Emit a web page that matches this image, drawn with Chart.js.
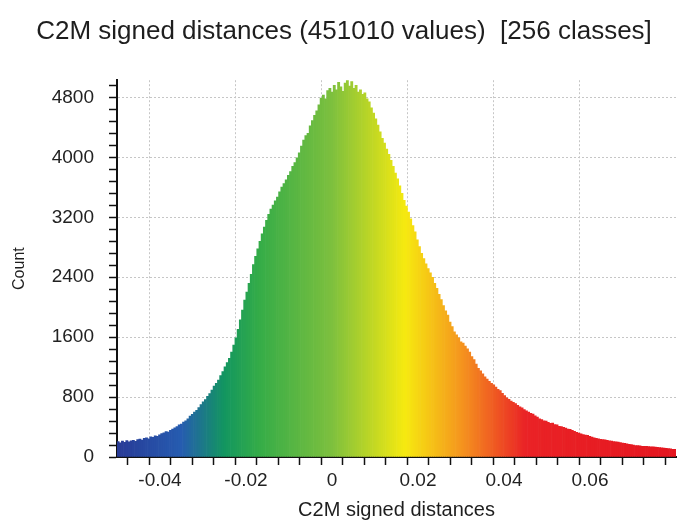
<!DOCTYPE html>
<html>
<head>
<meta charset="utf-8">
<script src="https://cdn.jsdelivr.net/npm/chart.js@4.4.1/dist/chart.umd.min.js"></script>
<style>
  html, body { margin: 0; padding: 0; background: #fff; }
  #wrap { width: 680px; height: 532px; }
</style>
</head>
<body>
<div id="wrap"><canvas id="chartHist" width="680" height="532"></canvas></div>
<script>
// histogram range and class counts (256 classes)
const histMin = -0.05
const histMax = 0.08
const counts = [
  205, 188, 212, 196, 220, 203, 215, 224, 210, 232,
  238, 226, 249, 256, 244, 268, 262, 281, 275, 296, 312,
  322, 338, 331, 357, 372, 390,
  405, 428, 441, 467, 482, 509, 545,
  571, 598, 624, 661, 700,
  735, 768, 810, 848, 895,
  946, 985, 1028, 1088, 1140,
  1205, 1262, 1318, 1400,
  1495, 1590, 1705,
  1830, 1960, 2095, 2200, 2320,
  2440, 2570, 2680,
  2780, 2880, 2980, 3070, 3160,
  3240, 3310, 3362, 3420, 3470, 3540, 3602, 3650, 3700, 3760, 3810, 3880, 3930, 3995,
  4060, 4150, 4232, 4290, 4322, 4420, 4490, 4560, 4620, 4700, 4790,
  4830, 4780, 4890, 4920, 4870, 4960, 4900, 5000, 4940, 4880, 4990, 5030, 4950, 5010, 4920, 4960, 4870,
  4900, 4840, 4860, 4780, 4740,
  4660, 4590, 4515, 4430, 4340, 4255, 4190, 4110, 4040, 3960,
  3880, 3790, 3712, 3620, 3520, 3425, 3350, 3270, 3180,
  3090, 3005, 2900, 2810, 2720,
  2650, 2580, 2515, 2460, 2400,
  2320, 2250, 2170, 2100, 2020,
  1950, 1893, 1800, 1740, 1670,
  1630, 1590, 1538, 1520, 1480, 1445,
  1400, 1340, 1302, 1240, 1185,
  1150, 1110, 1071, 1040, 1010, 985, 965,
  935, 905, 888, 850, 820, 790,
  770, 745, 731, 712, 690, 671, 655, 632, 615,
  598, 582, 572, 548, 532, 510, 500, 484,
  480, 463, 449, 452, 432, 431, 409, 405, 396,
  385, 372, 368, 357, 344, 330, 318, 308,
  300, 292, 289, 275, 267, 255, 250, 242,
  237, 232, 230, 222, 216, 212, 207, 203, 198,
  192, 186, 184, 176, 170, 165, 160, 154,
  151, 149, 143, 144, 142, 140, 137, 135, 132,
  128, 127, 122, 118, 115, 114, 108, 104, 101
]
const xTickLabels = [-0.04, -0.02, 0, 0.02, 0.04, 0.06]
const yTickLabels = [800, 1600, 2400, 3200, 4000, 4800]
const yMax = 5030

// colour scale, blue > green > yellow > red
const scaleStops = [-0.05, -0.035, -0.025, -0.017, 0, 0.017, 0.03, 0.045, 0.08]
const scaleColors = [
  [40, 58, 150], [38, 92, 176], [18, 150, 96], [52, 172, 72],
  [125, 192, 62], [246, 234, 16], [245, 150, 30], [234, 35, 38], [228, 22, 32]
]

const binW = (histMax - histMin) / counts.length

function colorAt(v) {
    if (v <= scaleStops[0]) return 'rgb(' + scaleColors[0].join(',') + ')'
    for (let i = 1; i < scaleStops.length; i++) {
        if (v <= scaleStops[i]) {
            const t = (v - scaleStops[i - 1]) / (scaleStops[i] - scaleStops[i - 1])
            const a = scaleColors[i - 1], b = scaleColors[i]
            const c = a.map((ch, k) => Math.round(ch + (b[k] - ch) * t))
            return 'rgb(' + c.join(',') + ')'
        }
    }
    return 'rgb(' + scaleColors[scaleColors.length - 1].join(',') + ')'
}

const points = counts.map((c, i) => ({ x: histMin + (i + 0.5) * binW, y: c }))
const barColors = points.map(p => colorAt(p.x))

const isXMajor = v => xTickLabels.some(t => Math.abs(t - v) < 1e-6)
const isYMajor = v => yTickLabels.includes(Math.round(v))

const fontName = "'Liberation Sans', Arial, sans-serif"

var ctxHist = document.getElementById('chartHist').getContext('2d');
var chartHist = new Chart(ctxHist, {
    type: 'bar',
    data: {
        datasets: [{
            data: points,
            backgroundColor: barColors,
            borderWidth: 0,
            barPercentage: 1,
            categoryPercentage: 1
        }]
    },
    options: {
        responsive: false,
        devicePixelRatio: 1,
        animation: false,
        layout: { padding: { left: 10, right: 2, top: 0, bottom: 0 } },
        plugins: {
            legend: { display: false },
            tooltip: { enabled: false },
            title: {
                display: true,
                text: 'C2M signed distances (451010 values)  [256 classes]',
                color: '#1e1e1e',
                font: { family: fontName, size: 26, weight: 'normal' },
                padding: { top: 16, bottom: 33 }
            }
        },
        scales: {
            x: {
                type: 'linear',
                min: histMin,
                max: histMax,
                offset: false,
                afterFit: s => { s.height = 75 },
                ticks: {
                    stepSize: 0.005,
                    includeBounds: false,
                    autoSkip: false,
                    maxRotation: 0,
                    padding: 4,
                    color: '#222',
                    font: { family: fontName, size: 19 },
                    callback: v => isXMajor(v) ? String(Math.round(v * 1000) / 1000) : ''
                },
                grid: {
                    color: c => (c.tick && isXMajor(c.tick.value)) ? '#c6c6c6' : 'rgba(0,0,0,0)',
                    tickColor: '#111',
                    tickLength: 8,
                    tickWidth: 1.5,
                    lineWidth: 1
                },
                border: { color: '#111', width: 2, dash: [2, 2] },
                title: {
                    display: true,
                    text: 'C2M signed distances',
                    color: '#1e1e1e',
                    font: { family: fontName, size: 20 },
                    padding: { top: 0, bottom: 10 }
                }
            },
            y: {
                min: 0,
                max: yMax,
                afterFit: s => { s.width = 107 },
                ticks: {
                    stepSize: 160,
                    includeBounds: false,
                    autoSkip: false,
                    padding: 15,
                    color: '#222',
                    font: { family: fontName, size: 19 },
                    callback: v => (v === 0 || isYMajor(v)) ? String(Math.round(v)) : ''
                },
                grid: {
                    color: c => (c.tick && isYMajor(c.tick.value)) ? '#c6c6c6' : 'rgba(0,0,0,0)',
                    tickColor: '#111',
                    tickLength: 8,
                    tickWidth: 1.5,
                    lineWidth: 1
                },
                border: { color: '#111', width: 2, dash: [2, 2] },
                title: {
                    display: true,
                    text: 'Count',
                    color: '#1e1e1e',
                    font: { family: fontName, size: 16 },
                    padding: { top: 0, bottom: 0 }
                }
            }
        }
    }
});
</script>
</body>
</html>
